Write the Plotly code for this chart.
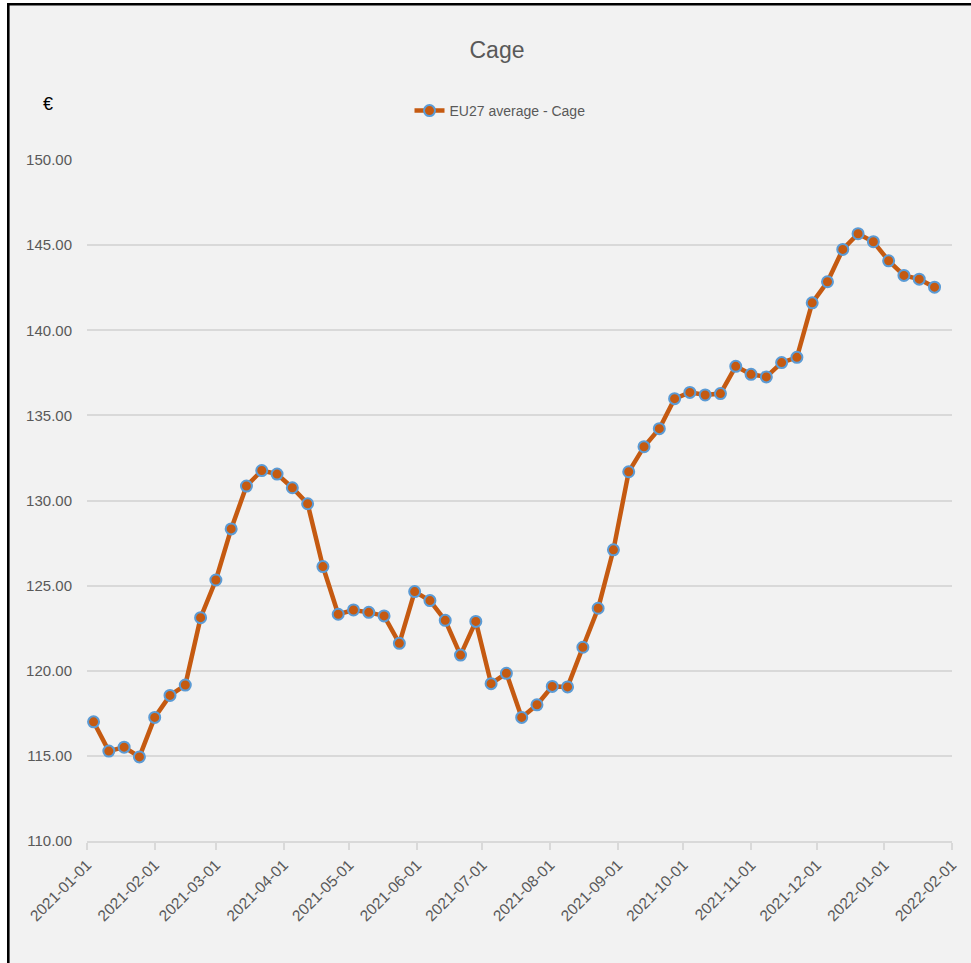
import plotly.graph_objects as go

# ---- data ----
week_dates = [
    "2021-01-04", "2021-01-11", "2021-01-18", "2021-01-25",
    "2021-02-01", "2021-02-08", "2021-02-15", "2021-02-22",
    "2021-03-01", "2021-03-08", "2021-03-15", "2021-03-22", "2021-03-29",
    "2021-04-05", "2021-04-12", "2021-04-19", "2021-04-26",
    "2021-05-03", "2021-05-10", "2021-05-17", "2021-05-24", "2021-05-31",
    "2021-06-07", "2021-06-14", "2021-06-21", "2021-06-28",
    "2021-07-05", "2021-07-12", "2021-07-19", "2021-07-26",
    "2021-08-02", "2021-08-09", "2021-08-16", "2021-08-23", "2021-08-30",
    "2021-09-06", "2021-09-13", "2021-09-20", "2021-09-27",
    "2021-10-04", "2021-10-11", "2021-10-18", "2021-10-25",
    "2021-11-01", "2021-11-08", "2021-11-15", "2021-11-22", "2021-11-29",
    "2021-12-06", "2021-12-13", "2021-12-20", "2021-12-27",
    "2022-01-03", "2022-01-10", "2022-01-17", "2022-01-24",
]
eu27_cage = [
    117.00, 115.28, 115.51, 114.94,
    117.26, 118.55, 119.16, 123.12,
    125.33, 128.33, 130.85, 131.76, 131.55,
    130.75, 129.81, 126.12, 123.32,
    123.57, 123.43, 123.22, 121.61, 124.65,
    124.12, 122.96, 120.92, 122.90,
    119.24, 119.85, 117.26, 118.00,
    119.08, 119.05, 121.38, 123.67, 127.10,
    131.69, 133.16, 134.22, 135.98,
    136.35, 136.20, 136.28, 137.88,
    137.41, 137.26, 138.10, 138.41, 141.61,
    142.85, 144.75, 145.67, 145.20,
    144.08, 143.22, 143.00, 142.53,
]
month_ticks = [
    "2021-01-01", "2021-02-01", "2021-03-01", "2021-04-01", "2021-05-01",
    "2021-06-01", "2021-07-01", "2021-08-01", "2021-09-01", "2021-10-01",
    "2021-11-01", "2021-12-01", "2022-01-01", "2022-02-01",
]
y_ticks = [110, 115, 120, 125, 130, 135, 140, 145, 150]
series_name = "EU27 average - Cage"
chart_title = "Cage"
unit_label = "€"

# ---- layout geometry ----
W, H = 971, 963
ML, MR, MT, MB = 87, 19, 160, 122
PW, PH = W - ML - MR, H - MT - MB


def px_x(px):
    return (px - ML) / PW


def px_y(py):
    return (H - MB - py) / PH


FONT = "Liberation Sans, Arial, sans-serif"
GREY = "#595959"
GRID = "#d9d9d9"

fig = go.Figure()
fig.add_trace(go.Scatter(
    x=week_dates, y=eu27_cage, name=series_name, mode="lines+markers",
    line=dict(color="#C55A11", width=4.5),
    marker=dict(size=11, color="#C55A11", line=dict(color="#5B9BD5", width=2)),
    showlegend=True,
))

fig.update_layout(
    width=W, height=H,
    margin=dict(l=ML, r=MR, t=MT, b=MB, autoexpand=False),
    paper_bgcolor="#f2f2f2", plot_bgcolor="#f2f2f2",
    font=dict(family=FONT, color=GREY, size=15),
    title=dict(text=chart_title, x=px_x(497), xref="paper", xanchor="center",
               y=1 - 50 / H, yref="container", yanchor="middle",
               font=dict(size=23, color=GREY, family=FONT)),
    legend=dict(orientation="h", x=px_x(500), xanchor="center",
                y=px_y(111), yanchor="middle", bgcolor="rgba(0,0,0,0)",
                font=dict(size=14, color=GREY, family=FONT), itemwidth=30),
    showlegend=True,
    xaxis=dict(
        type="date", range=[month_ticks[0], month_ticks[-1]],
        tickvals=month_ticks, ticktext=month_ticks, tickangle=-45,
        showgrid=False, showline=True, linecolor=GRID, linewidth=1.5,
        ticks="outside", ticklen=7, tickcolor=GRID, tickwidth=1.5,
        tickfont=dict(size=15.5, color=GREY), automargin=False, zeroline=False,
    ),
    yaxis=dict(
        range=[y_ticks[0], y_ticks[-1]], tickvals=y_ticks, tickformat=".2f",
        showgrid=True, gridcolor=GRID, gridwidth=1.5, showline=False,
        ticks="", ticklabelstandoff=14,
        tickfont=dict(size=15, color=GREY), automargin=False, zeroline=False,
    ),
)

fig.add_annotation(text=unit_label, xref="paper", yref="paper",
                   x=px_x(48), y=px_y(104), showarrow=False,
                   xanchor="center", yanchor="middle",
                   font=dict(size=18, color="#000000", family=FONT))

# frame: white strips outside the black border on top/left
shapes = [
    dict(type="rect", xref="paper", yref="paper", x0=px_x(-5), x1=px_x(7),
         y0=px_y(H + 5), y1=px_y(-5), fillcolor="white", line=dict(width=0)),
    dict(type="rect", xref="paper", yref="paper", x0=px_x(-5), x1=px_x(W + 5),
         y0=px_y(3), y1=px_y(-5), fillcolor="white", line=dict(width=0)),
    dict(type="line", xref="paper", yref="paper", x0=px_x(8.3), x1=px_x(8.3),
         y0=px_y(H + 5), y1=px_y(3), line=dict(color="black", width=2.6)),
    dict(type="line", xref="paper", yref="paper", x0=px_x(7), x1=px_x(W + 5),
         y0=px_y(4.3), y1=px_y(4.3), line=dict(color="black", width=2.6)),
]
fig.update_layout(shapes=shapes)

fig.write_html(
    "out.html",
    config={"displayModeBar": False},
    post_script="document.body.style.margin='0';document.body.style.overflow='hidden';",
)
